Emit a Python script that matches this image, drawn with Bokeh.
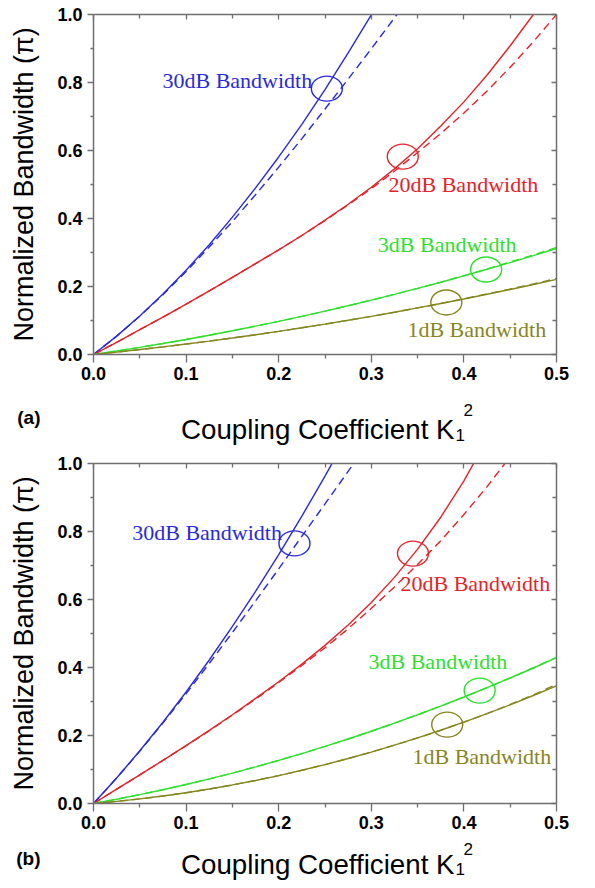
from bokeh.plotting import figure
from bokeh.models import LinearAxis, FixedTicker, Label, Range1d
from bokeh.layouts import column
from bokeh.core.properties import value
from bokeh.embed import file_html
from bokeh.resources import INLINE

# ---------------- data ----------------
K2 = [0.0, 0.025, 0.05, 0.075, 0.1, 0.125, 0.15, 0.175, 0.2, 0.225, 0.25,
      0.275, 0.3, 0.325, 0.35, 0.375, 0.4, 0.425, 0.45, 0.475, 0.5]

x_ticks = [0.0, 0.1, 0.2, 0.3, 0.4, 0.5]
x_minor = [0.05, 0.15, 0.25, 0.35, 0.45]
y_ticks = [0.0, 0.2, 0.4, 0.6, 0.8, 1.0]
y_minor = [0.1, 0.3, 0.5, 0.7, 0.9]

# panel (a)
a_30_solid = [0, 0.054, 0.113, 0.178, 0.248, 0.323, 0.404, 0.490, 0.581, 0.677, 0.779, 0.887, 0.999, 1.117]
a_30_dash = [0, 0.054, 0.113, 0.176, 0.244, 0.316, 0.391, 0.470, 0.551, 0.635, 0.722, 0.810, 0.899, 0.990, 1.082]
a_20_solid = [0, 0.036, 0.073, 0.110, 0.148, 0.187, 0.227, 0.267, 0.308, 0.350, 0.395, 0.442, 0.492, 0.546, 0.605, 0.672, 0.743, 0.822, 0.908, 1.000, 1.095]
a_20_dash = [0, 0.036, 0.073, 0.110, 0.148, 0.187, 0.227, 0.267, 0.308, 0.350, 0.394, 0.440, 0.488, 0.539, 0.594, 0.650, 0.710, 0.775, 0.845, 0.920, 1.000]
a_3_solid = [0, 0.0102, 0.0210, 0.0323, 0.0442, 0.0567, 0.0697, 0.0833, 0.0975, 0.1123, 0.1276, 0.1434, 0.1599, 0.1769, 0.1944, 0.2126, 0.2313, 0.2506, 0.2704, 0.2908, 0.3118]
a_3_dash = [0, 0.0102, 0.0210, 0.0323, 0.0442, 0.0567, 0.0697, 0.0833, 0.0975, 0.1123, 0.1276, 0.1434, 0.1599, 0.1769, 0.1944, 0.2126, 0.2320, 0.2515, 0.2720, 0.2930, 0.3150]
a_1_solid = [0, 0.0070, 0.0145, 0.0224, 0.0307, 0.0394, 0.0486, 0.0581, 0.0681, 0.0785, 0.0894, 0.1006, 0.1123, 0.1244, 0.1370, 0.1499, 0.1633, 0.1771, 0.1913, 0.2059, 0.2210]
a_1_dash = [0, 0.0070, 0.0145, 0.0224, 0.0307, 0.0394, 0.0486, 0.0581, 0.0681, 0.0785, 0.0894, 0.1006, 0.1123, 0.1244, 0.1370, 0.1499, 0.1640, 0.1780, 0.1925, 0.2075, 0.2235]

# panel (b)
b_30_solid = [0, 0.075, 0.155, 0.239, 0.328, 0.422, 0.521, 0.624, 0.732, 0.845, 0.963, 1.085]
b_30_dash = [0, 0.075, 0.154, 0.237, 0.323, 0.412, 0.503, 0.596, 0.690, 0.786, 0.881, 0.977, 1.072]
b_20_solid = [0, 0.042, 0.084, 0.127, 0.170, 0.215, 0.261, 0.309, 0.358, 0.410, 0.465, 0.525, 0.591, 0.665, 0.748, 0.842, 0.949, 1.071]
b_20_dash = [0, 0.042, 0.084, 0.127, 0.170, 0.214, 0.260, 0.307, 0.356, 0.406, 0.458, 0.514, 0.574, 0.637, 0.703, 0.773, 0.850, 0.932, 1.020]
b_3_solid = [0, 0.0126, 0.0261, 0.0406, 0.0560, 0.0723, 0.0895, 0.1077, 0.1268, 0.1468, 0.1678, 0.1897, 0.2126, 0.2363, 0.2610, 0.2866, 0.3132, 0.3407, 0.3691, 0.3985, 0.4288]
b_3_dash = [0, 0.0126, 0.0261, 0.0406, 0.0560, 0.0723, 0.0895, 0.1077, 0.1268, 0.1468, 0.1678, 0.1897, 0.2126, 0.2363, 0.2610, 0.2866, 0.3132, 0.3407, 0.3691, 0.3993, 0.4300]
b_1_solid = [0, 0.0062, 0.0135, 0.0220, 0.0317, 0.0425, 0.0546, 0.0678, 0.0821, 0.0977, 0.1144, 0.1323, 0.1513, 0.1716, 0.1930, 0.2155, 0.2393, 0.2642, 0.2903, 0.3176, 0.3460]
b_1_dash = [0, 0.0062, 0.0135, 0.0220, 0.0317, 0.0425, 0.0546, 0.0678, 0.0821, 0.0977, 0.1144, 0.1323, 0.1513, 0.1716, 0.1930, 0.2155, 0.2393, 0.2642, 0.2915, 0.3195, 0.3505]

series_names = ["30dB Bandwidth", "20dB Bandwidth", "3dB Bandwidth", "1dB Bandwidth"]
series_colors = ["#2a2ad8", "#e3242b", "#2ee02e", "#86861e"]

a_circle_x = [0.252, 0.334, 0.424, 0.381]
a_circle_y = [0.782, 0.582, 0.250, 0.153]
b_circle_x = [0.217, 0.345, 0.417, 0.382]
b_circle_y = [0.765, 0.735, 0.332, 0.232]

a_label_x = [0.0745, 0.3186, 0.307, 0.339]
a_label_y = [0.806, 0.500, 0.325, 0.074]
b_label_x = [0.0418, 0.3315, 0.297, 0.3445]
b_label_y = [0.797, 0.647, 0.418, 0.138]

y_title = "Normalized Bandwidth (\u03c0)"
x_title_main = "Coupling Coefficient K"
x_title_sub = "1"
x_title_sup = "2"
panel_tags = ["(a)", "(b)"]

AXIS_GRAY = "#6f6f6f"
W = 579
LEFT = 93
RIGHT = 23


def style_axis(ax):
    ax.axis_line_color = AXIS_GRAY
    ax.axis_line_width = 1.5
    ax.major_tick_line_color = AXIS_GRAY
    ax.minor_tick_line_color = AXIS_GRAY
    ax.major_tick_line_width = 1.3
    ax.minor_tick_line_width = 1.3


def make_panel(solids, dashes, cx, cy, lx, ly, top, frame_h, bottom):
    p = figure(width=W, height=top + frame_h + bottom, x_range=Range1d(0, 0.5), y_range=Range1d(0, 1),
               output_backend="svg", toolbar_location=None,
               min_border_left=LEFT, min_border_right=RIGHT,
               min_border_top=top, min_border_bottom=bottom)
    p.grid.visible = False
    p.outline_line_color = None

    xa = p.xaxis[0]
    xa.ticker = FixedTicker(ticks=x_ticks, minor_ticks=x_minor)
    xa.major_tick_out = 8
    xa.major_tick_in = 0
    xa.minor_tick_out = 4
    xa.minor_tick_in = 0
    xa.major_label_standoff = 4
    xa.major_label_overrides = {t: f"{t:.1f}" for t in x_ticks}

    ya = p.yaxis[0]
    ya.ticker = FixedTicker(ticks=y_ticks, minor_ticks=y_minor)
    ya.major_tick_out = 6
    ya.major_tick_in = 0
    ya.minor_tick_out = 3
    ya.minor_tick_in = 0
    ya.major_label_standoff = 5
    ya.major_label_overrides = {t: f"{t:.1f}" for t in y_ticks}
    ya.axis_label = y_title
    ya.axis_label_standoff = 15

    for ax in (xa, ya):
        style_axis(ax)
        ax.major_label_text_font = "Liberation Sans"
        ax.major_label_text_font_style = "bold"
        ax.major_label_text_font_size = "18px"
        ax.major_label_text_color = "black"
        ax.axis_label_text_font = "Liberation Sans"
        ax.axis_label_text_font_style = "normal"
        ax.axis_label_text_font_size = "27px"
        ax.axis_label_text_color = "black"

    # mirrored axes (top / right) with inward ticks, no labels
    top_ax = LinearAxis(ticker=FixedTicker(ticks=x_ticks, minor_ticks=x_minor))
    right_ax = LinearAxis(ticker=FixedTicker(ticks=y_ticks, minor_ticks=y_minor))
    top_ax.major_label_overrides = {t: "" for t in x_ticks}
    right_ax.major_label_overrides = {t: "" for t in y_ticks}
    for ax in (top_ax, right_ax):
        ax.major_tick_in = 5
        ax.major_tick_out = 0
        ax.minor_tick_in = 4
        ax.minor_tick_out = 0
        ax.major_label_text_font_size = "1px"
        ax.major_label_standoff = 0
        style_axis(ax)
    p.add_layout(top_ax, "above")
    p.add_layout(right_ax, "right")

    for ys, col in zip(dashes, series_colors):
        p.line(K2[:len(ys)], ys, line_color=col, line_width=1.4, line_dash="8 5")
    for ys, col in zip(solids, series_colors):
        p.line(K2[:len(ys)], ys, line_color=col, line_width=1.4)

    p.ellipse(x=cx, y=cy, width=31, height=25, width_units="screen", height_units="screen",
              fill_color=None, line_color=series_colors, line_width=1.4)

    for name, col, x, y in zip(series_names, series_colors, lx, ly):
        p.add_layout(Label(x=x, y=y, text=name, text_color=col, text_font="Liberation Serif",
                           text_font_size="22px", text_baseline="middle", text_align="left"))
    return p


def make_strip(h, tag, title_base, sub_base, sup_base):
    # strip under a panel: x-axis title (text in frame, page-x coordinates, y downward)
    # and the panel tag as the label of a tick-less left axis
    s = figure(width=W, height=h, x_range=Range1d(LEFT, W - RIGHT), y_range=Range1d(h, 0),
               output_backend="svg", toolbar_location=None, min_border=0,
               min_border_left=LEFT, min_border_right=RIGHT, min_border_top=0, min_border_bottom=0,
               x_axis_location=None, y_axis_location=None)
    s.grid.visible = False
    s.outline_line_color = None
    tag_ax = LinearAxis(ticker=FixedTicker(ticks=[]))
    tag_ax.axis_line_color = None
    tag_ax.major_tick_out = 0
    tag_ax.major_tick_in = 0
    tag_ax.minor_tick_out = 0
    tag_ax.minor_tick_in = 0
    tag_ax.major_label_standoff = 0
    tag_ax.axis_label = tag
    tag_ax.axis_label_orientation = "horizontal"
    tag_ax.axis_label_standoff = 53
    tag_ax.axis_label_text_font = "Liberation Sans"
    tag_ax.axis_label_text_font_style = "bold"
    tag_ax.axis_label_text_font_size = "19px"
    tag_ax.axis_label_text_color = "black"
    s.add_layout(tag_ax, "left")

    s.text(x=[454], y=[title_base], text=[x_title_main], text_font=value("Liberation Sans"),
           text_font_size=value("27.7px"), text_color=value("black"),
           text_align=value("right"), text_baseline=value("alphabetic"))
    s.text(x=[455], y=[sub_base], text=[x_title_sub], text_font=value("Liberation Sans"),
           text_font_size=value("17px"), text_color=value("black"),
           text_align=value("left"), text_baseline=value("alphabetic"))
    s.text(x=[463], y=[sup_base], text=[x_title_sup], text_font=value("Liberation Sans"),
           text_font_size=value("17px"), text_color=value("black"),
           text_align=value("left"), text_baseline=value("alphabetic"))
    return s


pa = make_panel([a_30_solid, a_20_solid, a_3_solid, a_1_solid],
                [a_30_dash, a_20_dash, a_3_dash, a_1_dash],
                a_circle_x, a_circle_y, a_label_x, a_label_y, 14, 340, 34)     # 0..388
sa = make_strip(58, panel_tags[0], 41, 46, 21)                                 # 388..446
pb = make_panel([b_30_solid, b_20_solid, b_3_solid, b_1_solid],
                [b_30_dash, b_20_dash, b_3_dash, b_1_dash],
                b_circle_x, b_circle_y, b_label_x, b_label_y, 17, 340, 33)     # 446..836
sb = make_strip(44, panel_tags[1], 28, 32, 12)                                 # 836..880

layout = column(pa, sa, pb, sb)
open("out.html", "w").write(file_html(layout, INLINE))
